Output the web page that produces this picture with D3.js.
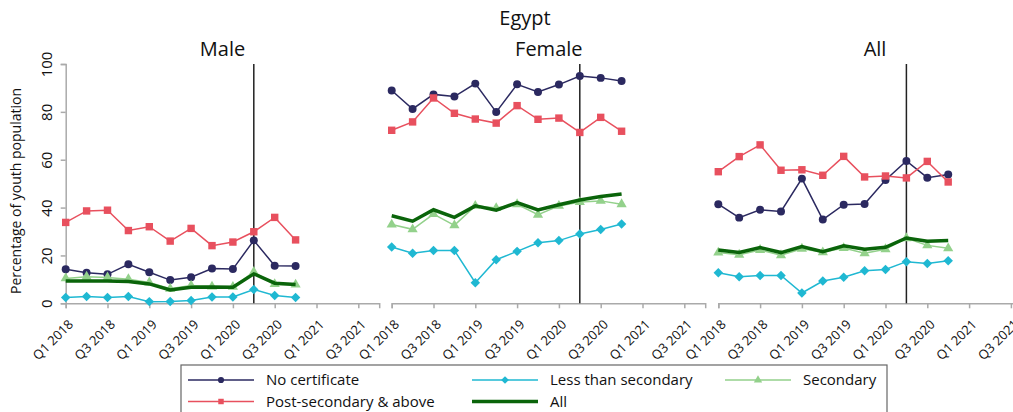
<!DOCTYPE html>
<html>
<head>
<meta charset="utf-8">
<script src="https://cdn.jsdelivr.net/npm/d3@7"></script>
<style>
  body { margin:0; background:#fff; }
  text { font-family: "Open Sans", sans-serif; fill:#111; }
</style>
</head>
<body>
<svg width="1013" height="412"></svg>
<script>
// quarters on the axis (Q1 2018 .. Q4 2021), ticks every 2nd quarter
var tickLabels = ["Q1 2018","Q3 2018","Q1 2019","Q3 2019","Q1 2020","Q3 2020","Q1 2021","Q3 2021"];
var tickIdx = [0,2,4,6,8,10,12,14];
var quarterIdx = [0,1,2,3,4,5,6,7,8,9,10,11];
var panelNames = ["Male","Female","All"];
var seriesNames = ["No certificate","Less than secondary","Secondary","Post-secondary & above","All"];

var maleNoCert = [14.2,12.8,12.1,16.3,13.0,9.7,10.9,14.5,14.3,26.3,15.7,15.6];
var maleLess   = [2.4,2.8,2.4,2.8,0.7,0.8,1.2,2.6,2.6,5.8,3.3,2.4];
var maleSec    = [10.4,11.1,10.8,10.1,8.7,6.1,7.4,7.0,6.9,13.1,8.0,7.8];
var malePost   = [33.8,38.6,38.9,30.4,32.0,26.0,31.3,24.1,25.6,29.9,35.9,26.5];
var maleAll    = [9.3,9.3,9.3,9.1,8.1,5.6,6.7,6.8,6.7,12.3,8.4,7.9];

var femNoCert = [88.9,81.2,87.3,86.4,91.8,79.9,91.5,88.3,91.4,95.0,94.2,92.9];
var femLess   = [23.5,20.9,22.1,22.1,8.6,18.2,21.7,25.3,26.2,29.0,30.8,33.1];
var femSec    = [32.9,30.9,37.3,32.6,40.7,39.8,41.4,37.0,40.7,42.3,42.8,41.4];
var femPost   = [72.3,75.8,85.8,79.4,77.0,75.3,82.6,76.9,77.4,71.4,77.7,71.9];
var femAll    = [36.6,34.3,39.1,35.9,40.7,38.9,42.1,39.0,41.2,43.2,44.6,45.7];

var allNoCert = [41.4,35.8,39.1,38.4,52.1,35.0,41.2,41.5,51.5,59.5,52.5,53.8];
var allLess   = [12.8,11.1,11.6,11.6,4.3,9.3,10.9,13.6,14.1,17.4,16.6,17.8];
var allSec    = [21.2,20.3,22.3,20.1,22.8,21.3,23.1,20.9,22.6,27.2,24.2,23.0];
var allPost   = [55.0,61.3,66.2,55.6,55.8,53.5,61.4,52.8,53.2,52.4,59.3,50.7];
var allAll    = [22.3,21.2,23.3,21.2,23.7,21.6,24.0,22.6,23.4,27.3,25.9,26.2];

var yTicks = [0,20,40,60,80,100];
var markerQuarter = 9; // Q2 2020 vertical line

var panelData = [
  [maleNoCert, maleLess, maleSec, malePost, maleAll],
  [femNoCert, femLess, femSec, femPost, femAll],
  [allNoCert, allLess, allSec, allPost, allAll]
];

var colors = ["#2b2960","#1fb8d2","#93d18b","#e8505e","#0a640a"];
// diamonds are squares turned 45 degrees
var symbols = [d3.symbolCircle, d3.symbolSquare, d3.symbolTriangle, d3.symbolSquare, null];
var rot = [0, 45, 0, 0, 0];
var symSize = [50, 45, 45, 55, 0];
var widths = [1.5, 1.5, 1.5, 1.5, 3.5];

var svg = d3.select("svg");

var panelLeft = [65.7, 391.7, 718.3];
var panelW = 313.5;

var yScale = d3.scaleLinear().domain([0,100]).range([303.3, 64]);

svg.append("text").attr("x",525).attr("y",25).attr("text-anchor","middle")
   .style("font-size","20px").text("Egypt");

panelData.forEach(function(series, p)
{
  var xScale = d3.scaleLinear().domain([0,15]).range([panelLeft[p], panelLeft[p]+panelW]);
  var g = svg.append("g").classed("panel",true);

  var titleX = [222.5, 548.8, 875][p];
  g.append("text").attr("x",titleX).attr("y",56).attr("text-anchor","middle")
   .style("font-size","20px").text(panelNames[p]);

  // x axis
  var xAxis = d3.axisBottom(xScale).tickValues(tickIdx).tickSize(5)
                .tickFormat(function(d,i){ return tickLabels[i]; });
  var ax = g.append("g").attr("transform","translate(0,"+yScale(0)+")").call(xAxis);
  ax.select(".domain").attr("stroke","#aaa").attr("stroke-width",1.5);
  ax.selectAll(".tick line").attr("stroke","#aaa").attr("stroke-width",1.5);
  ax.selectAll(".tick text")
    .style("font-size","13px").style("font-family","'Open Sans', sans-serif")
    .attr("text-anchor","end").attr("dy","0.35em")
    .attr("transform","translate(-1,13) rotate(-45)");

  if (p == 0)
  {
    var yAxis = d3.axisLeft(yScale).tickValues(yTicks).tickSize(5);
    var ay = g.append("g").attr("transform","translate("+panelLeft[0]+",0)").call(yAxis);
    ay.select(".domain").attr("stroke","#aaa").attr("stroke-width",1.5);
    ay.selectAll(".tick line").attr("stroke","#aaa").attr("stroke-width",1.5);
    ay.selectAll(".tick text")
      .style("font-size","15px").style("font-family","'Open Sans', sans-serif")
      .attr("text-anchor","middle").attr("x",0).attr("dy",0)
      .attr("transform","translate(-14,0) rotate(-90)");
  }

  // vertical reference line
  g.append("line")
   .attr("x1",xScale(markerQuarter)).attr("x2",xScale(markerQuarter))
   .attr("y1",yScale(100)).attr("y2",yScale(0))
   .attr("stroke","#222").attr("stroke-width",1.5);

  var line = d3.line().x(function(d,i){ return xScale(quarterIdx[i]); })
                      .y(function(d){ return yScale(d); });

  series.forEach(function(vals, s)
  {
    g.append("path").datum(vals)
     .attr("d",line).attr("fill","none")
     .attr("stroke",colors[s]).attr("stroke-width",widths[s]);
    if (symbols[s])
    {
      g.selectAll(null).data(vals).enter().append("path")
       .attr("d", d3.symbol().type(symbols[s]).size(symSize[s]))
       .attr("transform",function(d,i){ return "translate("+xScale(quarterIdx[i])+","+yScale(d)+") rotate("+rot[s]+")"; })
       .attr("fill",colors[s]);
    }
  });
});

svg.append("text")
   .attr("transform","translate(21,"+191+") rotate(-90)")
   .attr("text-anchor","middle").style("font-size","14px")
   .text("Percentage of youth population");

// legend
var legend = svg.append("g").classed("legend",true);
legend.append("rect").attr("x",181).attr("y",365).attr("width",706).attr("height",60)
      .attr("fill","none").attr("stroke","#666").attr("stroke-width",1.2);

var legendPos = [[188,380],[472,380],[725,380],[188,401.5],[472,401.5]];
var legendItems = legend.selectAll("g.legendLine")
      .data(seriesNames).enter().append("g").classed("legendLine",true)
      .attr("transform",function(d,i){ return "translate("+legendPos[i][0]+","+legendPos[i][1]+")"; });

legendItems.append("line").attr("x1",0).attr("x2",66).attr("y1",0).attr("y2",0)
      .attr("stroke",function(d,i){ return colors[i]; })
      .attr("stroke-width",function(d,i){ return widths[i]; });
legendItems.filter(function(d,i){ return symbols[i]; })
      .append("path")
      .attr("d",function(d){ return d3.symbol().type(symbols[seriesNames.indexOf(d)]).size(30)(); })
      .attr("transform",function(d){ return "translate(33,0) rotate("+rot[seriesNames.indexOf(d)]+")"; })
      .attr("fill",function(d){ return colors[seriesNames.indexOf(d)]; });
legendItems.append("text")
      .attr("x",78)
      .attr("dy","0.35em").style("font-size","15px")
      .text(function(d){ return d; });
</script>
</body>
</html>
